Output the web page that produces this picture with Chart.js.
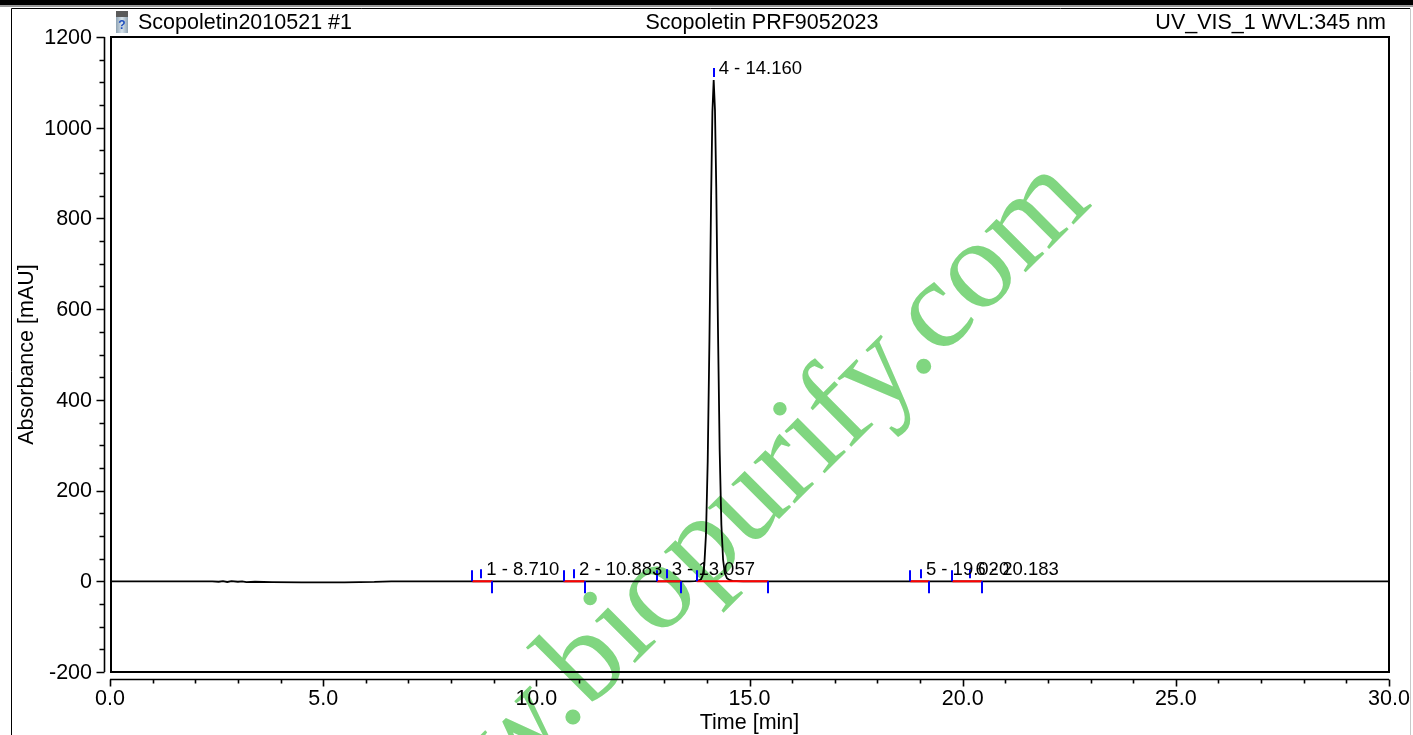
<!DOCTYPE html>
<html>
<head>
<meta charset="utf-8">
<script src="https://cdn.jsdelivr.net/npm/chart.js@4.4.1/dist/chart.umd.min.js"></script>
<style>
  html, body { margin: 0; padding: 0; background: #fff; }
  #wrap { position: relative; width: 1413px; height: 735px; }
</style>
</head>
<body>
<div id="wrap"><canvas id="chromatogram" width="1413" height="735"></canvas></div>
<script>
// trace: time [min] vs absorbance [mAU]
const times = [0, 2.40, 2.55, 2.65, 2.75, 2.85, 3.00, 3.10, 3.20, 3.40, 3.80, 4.50, 5.50, 6.20, 6.60, 8.00, 12.00,
  13.60, 13.72, 13.80, 13.86, 13.90, 13.94, 13.98, 14.02, 14.06, 14.10, 14.13, 14.16, 14.19, 14.22, 14.26,
  14.30, 14.34, 14.38, 14.42, 14.47, 14.53, 14.60, 14.70, 14.85, 16.00, 22.00, 30.00];
const absorbance = [0, 0, -1, 0.5, -1.5, 0.5, -1, 0, -2, -1, -2, -2.5, -2.5, -1.5, 0, 0, 0,
  0, 0.5, 1.5, 4, 12, 35, 105, 265, 530, 850, 1035, 1105, 1040, 870, 560,
  290, 125, 48, 18, 7, 3, 1, 0.5, 0, 0, 0, 0];

// integrated peaks
const peakNumbers = [1, 2, 3, 4, 5, 6];
const peakRetention = [8.710, 10.883, 13.057, 14.160, 19.020, 20.183];
const peakApex = [0, 0, 0, 1105, 0, 0];
const peakStart = [8.50, 10.64, 12.83, 13.76, 18.77, 19.76];
const peakEnd = [8.97, 11.13, 13.39, 15.44, 19.22, 20.45];

const xTicks = [0, 5, 10, 15, 20, 25, 30];
const yTicks = [-200, 0, 200, 400, 600, 800, 1000, 1200];
const xMinorStep = 1;
const yMinorStep = 50;

const headerLeft = 'Scopoletin2010521 #1';
const headerCenter = 'Scopoletin PRF9052023';
const headerRight = 'UV_VIS_1 WVL:345 nm';
const xTitle = 'Time [min]';
const yTitle = 'Absorbance [mAU]';
const watermark = 'www.biopurify.com';

const FONT = '"Liberation Sans", Arial, sans-serif';

const page = {
  id: 'page',
  beforeDraw(chart) {
    const ctx = chart.ctx;
    ctx.save();
    ctx.fillStyle = '#fff';
    ctx.fillRect(0, 0, chart.width, chart.height);
    // watermark sits under everything else
    ctx.translate(377, 921);
    ctx.rotate(-Math.PI / 4);
    ctx.fillStyle = 'rgb(128,214,128)';
    ctx.font = '127px "Liberation Serif", "Times New Roman", serif';
    ctx.textBaseline = 'alphabetic';
    ctx.fillText(watermark, 0, 0);
    ctx.restore();
  },
  afterDatasetsDraw(chart) {
    const ctx = chart.ctx;
    const x = chart.scales.x, y = chart.scales.y;
    const y0 = y.getPixelForValue(0);
    ctx.save();
    // red baselines
    ctx.strokeStyle = '#ff0000';
    ctx.lineWidth = 2;
    peakStart.forEach((s, i) => {
      ctx.beginPath();
      ctx.moveTo(x.getPixelForValue(s), y0);
      ctx.lineTo(x.getPixelForValue(peakEnd[i]), y0);
      ctx.stroke();
    });
    // blue delimiters
    ctx.strokeStyle = '#0000ff';
    ctx.lineWidth = 2;
    peakStart.forEach((s, i) => {
      const xs = Math.round(x.getPixelForValue(s));
      const xe = Math.round(x.getPixelForValue(peakEnd[i]));
      const xa = Math.round(x.getPixelForValue(peakRetention[i]));
      const ya = y.getPixelForValue(peakApex[i]);
      ctx.beginPath();
      ctx.moveTo(xs, y0); ctx.lineTo(xs, y0 - 11);
      ctx.moveTo(xe, y0); ctx.lineTo(xe, y0 + 12);
      ctx.moveTo(xa, ya - 3); ctx.lineTo(xa, ya - 12);
      ctx.stroke();
    });
    // peak labels
    ctx.fillStyle = '#000';
    ctx.font = '18.5px ' + FONT;
    ctx.textAlign = 'left';
    ctx.textBaseline = 'middle';
    peakRetention.forEach((t, i) => {
      const xa = x.getPixelForValue(t);
      const ya = y.getPixelForValue(peakApex[i]);
      ctx.fillText(peakNumbers[i] + ' - ' + t.toFixed(3), xa + 5, ya - 11);
    });
    ctx.restore();
  },
  afterDraw(chart) {
    const ctx = chart.ctx;
    const a = chart.chartArea;
    const x = chart.scales.x, y = chart.scales.y;
    ctx.save();
    // outer frame
    ctx.fillStyle = '#000';
    ctx.fillRect(0, 0, chart.width, 5);
    ctx.fillStyle = '#9a9a9a';
    ctx.fillRect(0, 5, chart.width, 2);
    ctx.strokeStyle = '#000';
    ctx.lineWidth = 1;
    ctx.beginPath();
    ctx.moveTo(11.5, chart.height); ctx.lineTo(11.5, 8.5); ctx.lineTo(1410, 8.5);
    ctx.stroke();
    ctx.strokeStyle = '#c8c8c8';
    ctx.beginPath();
    ctx.moveTo(1410.5, 8.5); ctx.lineTo(1410.5, chart.height);
    ctx.stroke();

    // plot box
    ctx.strokeStyle = '#000';
    ctx.lineWidth = 2;
    ctx.strokeRect(a.left + 1, a.top, a.right - a.left - 1, a.bottom - a.top);

    // y axis
    const ax = 104.5;
    ctx.lineWidth = 1.6;
    ctx.beginPath();
    ctx.moveTo(ax, y.getPixelForValue(yTicks[0]));
    ctx.lineTo(ax, y.getPixelForValue(yTicks[yTicks.length - 1]));
    for (let v = yTicks[0]; v <= yTicks[yTicks.length - 1]; v += yMinorStep) {
      const py = Math.round(y.getPixelForValue(v)) + 0.5;
      const major = yTicks.includes(v);
      ctx.moveTo(ax, py); ctx.lineTo(ax - (major ? 8 : 5), py);
    }
    ctx.stroke();
    ctx.fillStyle = '#000';
    ctx.font = '21.5px ' + FONT;
    ctx.textAlign = 'right';
    ctx.textBaseline = 'middle';
    yTicks.forEach(v => ctx.fillText(String(v), 92, y.getPixelForValue(v) + 1));

    // x axis
    const ay = 679.5;
    ctx.beginPath();
    ctx.moveTo(x.getPixelForValue(xTicks[0]), ay);
    ctx.lineTo(x.getPixelForValue(xTicks[xTicks.length - 1]), ay);
    for (let v = xTicks[0]; v <= xTicks[xTicks.length - 1]; v += xMinorStep) {
      const px = Math.round(x.getPixelForValue(v)) + 0.5;
      const major = xTicks.includes(v);
      ctx.moveTo(px, ay); ctx.lineTo(px, ay + (major ? 7 : 4));
    }
    ctx.stroke();
    ctx.textAlign = 'center';
    xTicks.forEach(v => ctx.fillText(v.toFixed(1), x.getPixelForValue(v), 699));

    // axis titles
    ctx.fillText(xTitle, (a.left + a.right) / 2, 723);
    ctx.save();
    ctx.translate(27, (a.top + a.bottom) / 2);
    ctx.rotate(-Math.PI / 2);
    ctx.fillText(yTitle, 0, 0);
    ctx.restore();

    // header
    ctx.textBaseline = 'alphabetic';
    ctx.textAlign = 'left';
    ctx.fillText(headerLeft, 138, 29);
    ctx.textAlign = 'center';
    ctx.fillText(headerCenter, 762, 29);
    ctx.textAlign = 'right';
    ctx.fillText(headerRight, 1386, 29);

    // little data-file icon
    const g = ctx.createLinearGradient(116, 0, 128, 0);
    g.addColorStop(0, '#8fa3b3');
    g.addColorStop(0.5, '#d7e3ec');
    g.addColorStop(1, '#8fa3b3');
    ctx.fillStyle = '#5a5a5a';
    ctx.fillRect(116, 11, 12, 6);
    ctx.fillStyle = g;
    ctx.fillRect(116, 17, 12, 16);
    ctx.fillStyle = '#1f4fbf';
    ctx.font = 'bold 12px ' + FONT;
    ctx.textAlign = 'center';
    ctx.textBaseline = 'middle';
    ctx.fillText('?', 122, 26);
    ctx.restore();
  }
};

new Chart(document.getElementById('chromatogram'), {
  type: 'line',
  data: {
    datasets: [{
      data: times.map((t, i) => ({ x: t, y: absorbance[i] })),
      borderColor: '#000',
      borderWidth: 1.8,
      pointRadius: 0,
      tension: 0,
      fill: false
    }]
  },
  options: {
    responsive: false,
    animation: false,
    events: [],
    layout: { padding: { left: 110, right: 24, top: 37, bottom: 63 } },
    scales: {
      x: { type: 'linear', min: 0, max: 30, display: false },
      y: { type: 'linear', min: -200, max: 1200, display: false }
    },
    plugins: { legend: { display: false }, tooltip: { enabled: false } }
  },
  plugins: [page]
});
</script>
</body>
</html>
